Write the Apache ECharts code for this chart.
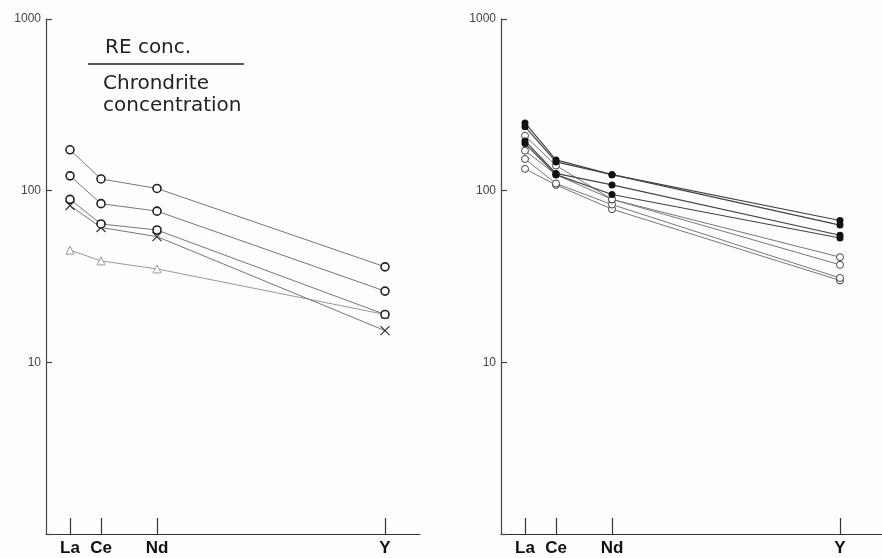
<!DOCTYPE html>
<html>
<head>
<meta charset="utf-8">
<title>RE / chondrite</title>
<script src="https://cdn.jsdelivr.net/npm/echarts@6/dist/echarts.min.js"></script>
<style>
  html, body { margin: 0; padding: 0; background: #fdfdfb; }
  #chart { width: 882px; height: 558px; }
</style>
</head>
<body>
<div id="chart"></div>
<script>
// element names and where they sit along the x axis
const elements = ['La', 'Ce', 'Nd', 'Y'];
const elementPos = [24, 55, 111, 339];

// left panel: RE conc. / chondrite concentration
const leftCircleA = [173, 117, 103, 36];
const leftCircleB = [122, 84, 76, 26];
const leftCircleC = [89, 64, 59, 19];
const leftCross = [82, 61, 54, 15.3];
const leftTriangle = [45, 39, 35, 19];

// right panel: filled dots and open circles
const rightFilled1 = [248, 151, 124, 67];
const rightFilled2 = [236, 147, 124, 63];
const rightFilled3 = [195, 126, 108, 55];
const rightFilled4 = [188, 124, 95, 53];
const rightOpen1 = [209, 140, 89, 41];
const rightOpen2 = [171, 124, 89, 37];
const rightOpen3 = [153, 110, 83, 31];
const rightOpen4 = [134, 108, 78, 30];

const chart = echarts.init(document.getElementById('chart'));

const toPairs = (vals) => vals.map((v, i) => [elementPos[i], v]);

const crossPath = 'path://M0,0L10,10M10,0L0,10';
const font = 'Liberation Sans, Arial, sans-serif';
const titleFont = 'DejaVu Sans, sans-serif';

function makeSeries(vals, idx, kind) {
  let s = {
    type: 'line',
    xAxisIndex: idx,
    yAxisIndex: idx,
    data: toPairs(vals),
    symbolSize: 8,
    lineStyle: { color: '#777', width: 1 },
    z: 3
  };
  if (kind === 'circle') {
    s.symbol = 'circle';
    s.itemStyle = { color: '#fff', borderColor: '#222', borderWidth: 1.6 };
  } else if (kind === 'smallCircle') {
    s.symbol = 'circle';
    s.symbolSize = 7;
    s.itemStyle = { color: '#fff', borderColor: '#444', borderWidth: 1 };
  } else if (kind === 'dot') {
    s.symbol = 'circle';
    s.symbolSize = 7;
    s.itemStyle = { color: '#111', borderColor: '#111', borderWidth: 0 };
    s.lineStyle = { color: '#444', width: 1.2 };
  } else if (kind === 'cross') {
    s.symbol = crossPath;
    s.symbolSize = 9;
    s.itemStyle = { color: 'none', borderColor: '#333', borderWidth: 1.2 };
  } else if (kind === 'triangle') {
    s.symbol = 'triangle';
    s.symbolSize = 8;
    s.itemStyle = { color: '#fff', borderColor: '#999', borderWidth: 1 };
    s.lineStyle = { color: '#999', width: 1 };
  }
  return s;
}

function xAxisFor(idx, max) {
  return {
    type: 'value',
    gridIndex: idx,
    min: 0,
    max: max,
    splitLine: { show: false },
    axisLine: { lineStyle: { color: '#333', width: 1.2 } },
    axisTick: {
      customValues: elementPos,
      inside: true,
      length: 16,
      lineStyle: { color: '#333', width: 1.2 }
    },
    axisLabel: {
      customValues: elementPos,
      formatter: (v) => elements[elementPos.indexOf(v)],
      margin: 6,
      color: '#111',
      fontSize: 17,
      fontWeight: 'bold',
      fontFamily: font
    }
  };
}

function yAxisFor(idx) {
  return {
    type: 'log',
    logBase: 10,
    gridIndex: idx,
    min: 1,
    max: 1000,
    splitLine: { show: false },
    minorTick: { show: false },
    axisLine: { show: true, lineStyle: { color: '#444', width: 1.2 } },
    axisTick: { inside: true, length: 6, lineStyle: { color: '#444', width: 1.2 } },
    axisLabel: {
      formatter: (v) => (v === 1 ? '' : String(v)),
      margin: 5,
      color: '#444',
      fontSize: 12,
      fontFamily: font
    }
  };
}

function titleText(text, x, y) {
  return {
    type: 'text', x: x, y: y,
    style: { text: text, fontSize: 20, fill: '#222', fontFamily: titleFont, verticalAlign: 'middle' }
  };
}

let option = {
  backgroundColor: '#fdfdfb',
  animation: false,
  grid: [
    { left: 46, top: 19, width: 374, height: 515 },
    { left: 501, top: 19, width: 381, height: 515 }
  ],
  xAxis: [xAxisFor(0, 374), xAxisFor(1, 381)],
  yAxis: [yAxisFor(0), yAxisFor(1)],
  series: [
    makeSeries(leftTriangle, 0, 'triangle'),
    makeSeries(leftCross, 0, 'cross'),
    makeSeries(leftCircleC, 0, 'circle'),
    makeSeries(leftCircleB, 0, 'circle'),
    makeSeries(leftCircleA, 0, 'circle'),
    makeSeries(rightOpen4, 1, 'smallCircle'),
    makeSeries(rightOpen3, 1, 'smallCircle'),
    makeSeries(rightOpen2, 1, 'smallCircle'),
    makeSeries(rightOpen1, 1, 'smallCircle'),
    makeSeries(rightFilled4, 1, 'dot'),
    makeSeries(rightFilled3, 1, 'dot'),
    makeSeries(rightFilled2, 1, 'dot'),
    makeSeries(rightFilled1, 1, 'dot')
  ],
  graphic: [
    titleText('RE conc.', 105, 48),
    {
      type: 'line',
      shape: { x1: 88, y1: 64, x2: 244, y2: 64 },
      style: { stroke: '#222', lineWidth: 1.5 }
    },
    titleText('Chrondrite', 103, 84),
    titleText('concentration', 103, 106)
  ]
};

chart.setOption(option);
</script>
</body>
</html>
